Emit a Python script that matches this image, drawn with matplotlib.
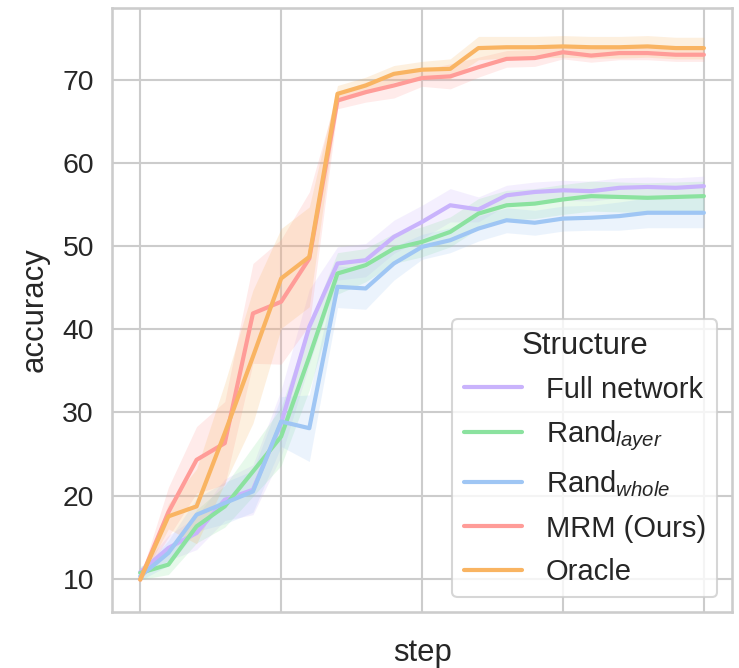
import numpy as np
import matplotlib
matplotlib.use("Agg")
import matplotlib.pyplot as plt
import seaborn as sns

# steps (x tick labels are hidden in the original)
steps = list(range(21))
xticks = [0, 5, 10, 15, 20]
yticks = [10, 20, 30, 40, 50, 60, 70]

labels = ["Full network", r"Rand$_{layer}$", r"Rand$_{whole}$", "MRM (Ours)", "Oracle"]
colors = ["#c9b3fc", "#8be29f", "#9fc6f4", "#ff9c98", "#f9b462"]

# mean accuracy per step
full_net = [10.8, 13.7, 15.5, 19.5, 20.7, 28.7, 40.3, 47.9, 48.3, 51.1, 52.9,
            54.9, 54.4, 56.1, 56.5, 56.7, 56.6, 57.0, 57.1, 57.0, 57.2]
rand_layer = [10.7, 11.7, 16.3, 18.7, 22.9, 27.1, 36.7, 46.7, 47.7, 49.7, 50.5,
              51.7, 53.9, 54.9, 55.1, 55.6, 56.0, 55.9, 55.8, 55.9, 56.0]
rand_whole = [10.3, 13.1, 17.7, 19.1, 20.5, 28.9, 28.1, 45.1, 44.9, 47.9, 49.9,
              50.7, 52.1, 53.1, 52.8, 53.3, 53.4, 53.6, 54.0, 54.0, 54.0]
mrm = [9.9, 18.0, 24.3, 26.3, 41.9, 43.3, 48.5, 67.5, 68.5, 69.3, 70.2,
       70.4, 71.5, 72.5, 72.6, 73.3, 72.9, 73.2, 73.2, 73.0, 73.0]
oracle = [9.9, 17.5, 18.7, 27.5, 36.7, 46.1, 48.7, 68.3, 69.3, 70.7, 71.2,
          71.3, 73.8, 73.9, 73.9, 74.0, 73.9, 73.9, 74.0, 73.8, 73.8]

# half width of the confidence band per step
full_net_ci = [0.5, 1.5, 2.0, 2.5, 3.0, 4.0, 4.5, 2.0, 2.0, 2.0, 2.0,
               2.0, 1.5, 1.2, 1.2, 1.2, 1.2, 1.2, 1.2, 1.2, 1.2]
rand_layer_ci = [0.8, 1.2, 2.0, 2.5, 3.0, 3.5, 4.0, 2.5, 2.0, 1.8, 1.8,
                 1.8, 1.8, 1.8, 1.8, 1.8, 1.8, 1.8, 1.8, 1.8, 1.8]
rand_whole_ci = [0.5, 1.5, 2.0, 2.5, 2.5, 3.0, 4.0, 2.5, 2.5, 2.0, 1.5,
                 1.5, 1.5, 1.5, 1.5, 1.5, 1.5, 1.7, 1.8, 1.8, 1.8]
mrm_ci = [0.3, 3.0, 4.0, 5.0, 6.0, 7.5, 8.0, 1.0, 1.2, 1.5, 1.0,
          1.5, 1.2, 1.0, 1.0, 0.8, 0.8, 0.8, 0.8, 0.8, 0.8]
oracle_ci = [0.3, 1.5, 4.5, 6.0, 8.0, 6.0, 6.0, 1.0, 1.0, 1.0, 1.0,
             1.2, 1.4, 1.3, 1.3, 1.3, 1.3, 1.3, 1.3, 1.3, 1.3]

series = [full_net, rand_layer, rand_whole, mrm, oracle]
bands = [full_net_ci, rand_layer_ci, rand_whole_ci, mrm_ci, oracle_ci]

sns.set_theme(style="whitegrid", context="talk", font_scale=1.24)
plt.rcParams["font.family"] = ["Liberation Sans", "DejaVu Sans"]
plt.rcParams["mathtext.fontset"] = "custom"
plt.rcParams["mathtext.rm"] = "Liberation Sans"
plt.rcParams["mathtext.it"] = "Liberation Sans:italic"

fig = plt.figure(figsize=(7.39, 6.68), dpi=100)
ax = fig.add_axes([0.1516, 0.0838, 0.839, 0.904])

x = np.array(steps)
for y, ci, lab, c in zip(series, bands, labels, colors):
    y = np.array(y)
    ci = np.array(ci)
    ax.fill_between(x, y - ci, y + ci, color=c, alpha=0.2, linewidth=0)
    ax.plot(x, y, color=c, lw=3, label=lab)

ax.set_xlim(-1, 21)
ax.set_ylim(6.0, 78.6)
ax.set_xticks(xticks)
ax.set_xticklabels([])
ax.set_yticks(yticks)
ax.tick_params(axis="y", pad=4, colors="#262626")
ax.set_xlabel("step", labelpad=6)
ax.set_ylabel("accuracy", labelpad=9)

leg = ax.legend(title="Structure", loc="lower right", fontsize=21,
                title_fontsize=22.5, labelspacing=0.52)

fig.savefig("out.png", dpi=100)
